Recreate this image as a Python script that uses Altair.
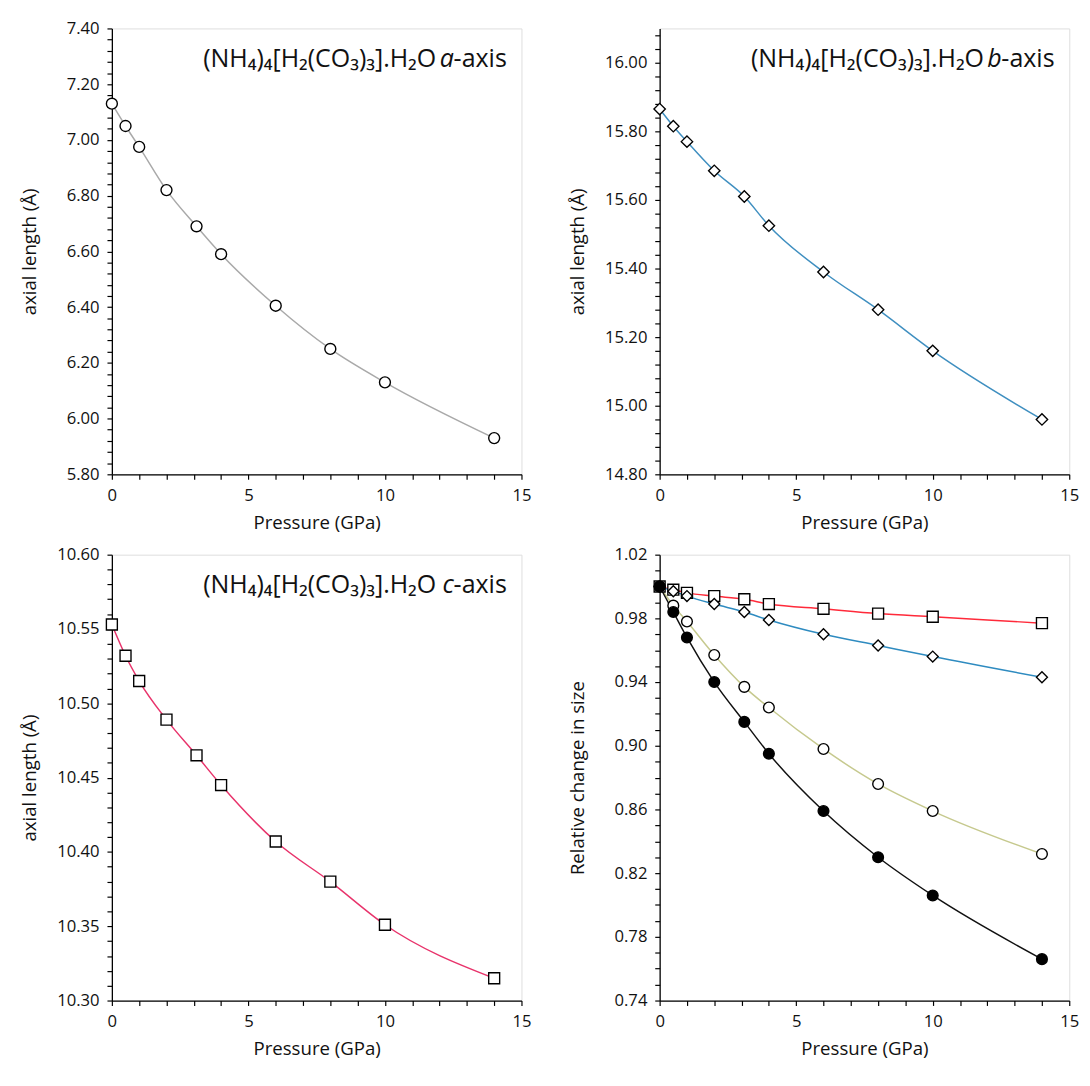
import altair as alt
import pandas as pd

# ---------------- data ----------------
P = [0, 0.5, 1, 2, 3.1, 4, 6, 8, 10, 14]
a_len = [7.13, 7.05, 6.975, 6.82, 6.69, 6.59, 6.405, 6.25, 6.13, 5.93]
b_len = [15.865, 15.815, 15.77, 15.685, 15.61, 15.525, 15.39, 15.28, 15.16, 14.96]
c_len = [10.553, 10.532, 10.515, 10.489, 10.465, 10.445, 10.407, 10.380, 10.351, 10.315]
a_rel = [1.000, 0.988, 0.978, 0.957, 0.937, 0.924, 0.898, 0.876, 0.859, 0.832]
b_rel = [1.000, 0.997, 0.994, 0.989, 0.984, 0.979, 0.970, 0.963, 0.956, 0.943]
c_rel = [1.000, 0.998, 0.996, 0.994, 0.992, 0.989, 0.986, 0.983, 0.981, 0.977]
v_rel = [1.000, 0.984, 0.968, 0.940, 0.915, 0.895, 0.859, 0.830, 0.806, 0.766]

FORMULA = "(NH\u2084)\u2084[H\u2082(CO\u2083)\u2083].H\u2082O"

FONT = "Open Sans"
W, H = 418, 455
AX = dict(labelFont=FONT, titleFont=FONT, labelFontSize=17, titleFontSize=19,
          titleFontWeight="normal", labelColor="#111", titleColor="#111",
          domainColor="black", tickColor="black", domainWidth=1.3, tickWidth=1.2,
          labelOverlap=False, labelFlush=False, grid=False, tickSize=5, tickCount=500)


def x_enc():
    return alt.X(
        "P:Q",
        scale=alt.Scale(domain=[0, 15], nice=False),
        axis=alt.Axis(
            title="Pressure (GPa)",
            values=list(range(16)),
            labelExpr="datum.value % 5 === 0 ? format(datum.value, 'd') : ''",
            labelPadding=9,
            titlePadding=10,
            **AX,
        ),
    )


def y_enc(field, lo, hi, minor, major, title):
    n = int(round((hi - lo) / minor))
    vals = [round(lo + minor * i, 3) for i in range(n + 1)]
    vals = [v for v in vals if v <= hi + 1e-9]
    test = f"abs((datum.value - {lo})/{major} - round((datum.value - {lo})/{major})) < 1e-4"
    return alt.Y(
        f"{field}:Q",
        scale=alt.Scale(domain=[lo, hi], nice=False, zero=False),
        axis=alt.Axis(
            title=title,
            values=vals,
            labelExpr=f"{test} ? format(datum.value, '.2f') : ''",
            labelPadding=8,
            titleX=-84,
            titleBaseline="middle",
            **AX,
        ),
    )


def header(letter):
    fs = 25.5
    w_axis = 54  # width of "-axis"
    w_a = 14     # width of italic letter
    gap = 4
    right = W - 15
    yy = 31
    df = pd.DataFrame({"t": [0]})
    base = alt.Chart(df)
    t1 = base.mark_text(text=FORMULA, font=FONT, fontSize=fs, align="right",
                        baseline="middle", color="#111").encode(
        x=alt.value(right - w_axis - w_a - gap), y=alt.value(yy))
    t2 = base.mark_text(text=letter, font=FONT, fontSize=fs, fontStyle="italic",
                        align="right", baseline="middle", color="#111").encode(
        x=alt.value(right - w_axis), y=alt.value(yy))
    t3 = base.mark_text(text="-axis", font=FONT, fontSize=fs, align="right",
                        baseline="middle", color="#111").encode(
        x=alt.value(right), y=alt.value(yy))
    return [t1, t2, t3]


def axial_panel(vals, lo, hi, minor, major, color, shape, size, letter):
    df = pd.DataFrame({"P": P, "v": vals})
    base = alt.Chart(df)
    line = base.mark_line(color=color, strokeWidth=1.5, interpolate="monotone").encode(
        x=x_enc(), y=y_enc("v", lo, hi, minor, major, "axial length (\u00c5)"))
    pts = base.mark_point(shape=shape, size=size, filled=True, fill="white",
                          stroke="black", strokeWidth=1.4, opacity=1).encode(
        x=alt.X("P:Q"), y=alt.Y("v:Q"))
    return alt.layer(line, pts, *header(letter)).properties(width=W, height=H)


tl = axial_panel(a_len, 5.80, 7.40, 0.04, 0.20, "#a9a9a9", "circle", 125, "a")
tr = axial_panel(b_len, 14.80, 16.10, 0.04, 0.20, "#3f8fc0", "diamond", 135, "b")
bl = axial_panel(c_len, 10.30, 10.60, 0.01, 0.05, "#e8336b", "square", 125, "c")

# relative panel: c (squares), b (diamonds), a (open circles), volume (filled circles)
specs = [
    (c_rel, "#ff2a3a", "square", 125, "white"),
    (b_rel, "#2e8bc0", "diamond", 125, "white"),
    (a_rel, "#c6c98e", "circle", 120, "white"),
    (v_rel, "#111111", "circle", 120, "black"),
]
lines, points = [], []
for vals, col, shp, sz, fl in specs:
    df = pd.DataFrame({"P": P, "v": vals})
    base = alt.Chart(df)
    lines.append(base.mark_line(color=col, strokeWidth=1.5, interpolate="monotone").encode(
        x=x_enc(), y=y_enc("v", 0.74, 1.02, 0.01, 0.04, "Relative change in size")))
    points.append(base.mark_point(shape=shp, size=sz, filled=True, fill=fl,
                                  stroke="black", strokeWidth=1.4, opacity=1).encode(
        x=alt.X("P:Q"), y=alt.Y("v:Q")))
br = alt.layer(*lines, *points).properties(width=W, height=H)

chart = alt.concat(tl, tr, bl, br, columns=2,
                   spacing=alt.RowColnumber(row=12, column=36)).properties(
    padding={"left": 12, "top": 0, "right": 2, "bottom": 0}
).configure_view(stroke="black", strokeWidth=1.3).configure(background="white")

chart.save("out.html", embed_options={"renderer": "svg", "actions": False})
